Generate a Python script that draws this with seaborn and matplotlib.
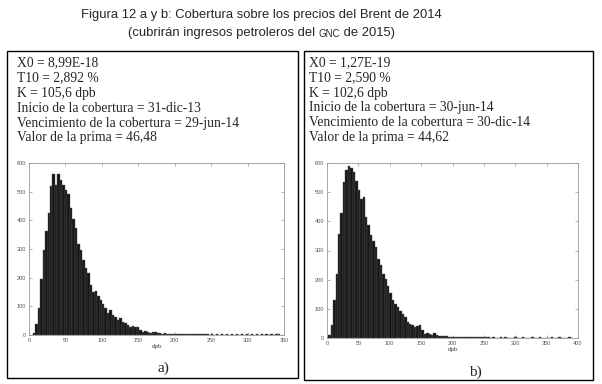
import numpy as np
import pandas as pd
import seaborn as sns
import matplotlib
import matplotlib.pyplot as plt
from matplotlib.patches import Rectangle
from matplotlib.text import Annotation

matplotlib.use('Agg')

# histogram bins (start, width, counts per bin)
left_start, left_width = 5.0, 3.4
left_counts = [6, 40, 95, 195, 297, 362, 425, 520, 560, 525,
               562, 542, 522, 507, 492, 443, 405, 372, 318, 297,
               262, 232, 216, 176, 150, 155, 135, 122, 107, 93,
               78, 88, 70, 64, 52, 58, 47, 41, 35, 28,
               30, 27, 29, 17, 10, 15, 12, 8, 12, 9,
               6, 8, 5, 6, 4, 5, 4, 3, 4, 3,
               3, 4, 2, 3, 3, 2, 3, 2, 3, 2,
               3, 0, 2, 0, 3, 0, 2, 0, 3, 0,
               2, 0, 3, 0, 2, 0, 3, 0, 2, 0,
               3, 0, 2, 0, 3, 0, 2, 0, 3, 2]

right_start, right_width = 2.0, 3.9
right_counts = [9, 44, 132, 220, 357, 430, 536, 577, 590, 582,
                570, 539, 506, 477, 483, 415, 389, 354, 331, 313,
                272, 249, 220, 202, 179, 155, 132, 118, 107, 92,
                84, 72, 55, 49, 44, 38, 40, 44, 26, 15,
                17, 13, 9, 17, 9, 8, 7, 6, 6, 5,
                4, 5, 3, 4, 3, 4, 3, 3, 4, 2,
                3, 2, 3, 2, 2, 2, 0, 2, 0, 1,
                2, 0, 2, 0, 1, 0, 2, 0, 0, 2,
                0, 1, 0, 2, 0, 0, 2, 0, 0, 1,
                0, 2, 0, 0, 2, 0, 0, 0, 2, 0]

left_xticks = [0, 50, 100, 150, 200, 250, 300, 350]
right_xticks = [0, 50, 100, 150, 200, 250, 300, 350, 400]
yticks = [0, 100, 200, 300, 400, 500, 600]

left_info = ["X0 = 8,99E-18", "T10 = 2,892 %", "K = 105,6 dpb",
             "Inicio de la cobertura = 31-dic-13",
             "Vencimiento de la cobertura = 29-jun-14",
             "Valor de la prima = 46,48"]
right_info = ["X0 = 1,27E-19", "T10 = 2,590 %", "K = 102,6 dpb",
              "Inicio de la cobertura = 30-jun-14",
              "Vencimiento de la cobertura = 30-dic-14",
              "Valor de la prima = 44,62"]

title1 = "Figura 12 a y b: Cobertura sobre los precios del Brent de 2014"
title2_parts = ["(cubrirán ingresos petroleros del ", "GNC", " de 2015)"]

sns.set_style("white")
plt.rcParams['font.family'] = ['Liberation Sans', 'DejaVu Sans']

W, H = 602, 384
fig = plt.figure(figsize=(W / 100, H / 100), dpi=100)


def fx(px):
    return px / W


def fy(py):
    return 1 - py / H


# outer boxes
for x0, x1, y0, y1 in [(7, 298, 51, 378), (304, 593, 51, 380)]:
    fig.patches.append(Rectangle((fx(x0), fy(y1)), fx(x1 - x0), (y1 - y0) / H,
                                 transform=fig.transFigure, fill=False,
                                 edgecolor='black', linewidth=1.0))

# title, second line with "GNC" in small caps
fig.text(fx(261), fy(15), title1, ha='center', va='center', fontsize=9.4)
a1 = fig.text(fx(128), fy(33), title2_parts[0], ha='left', va='center', fontsize=9.4)
a2 = fig.add_artist(Annotation(title2_parts[1], xy=(1, 0), xycoords=a1,
                               va='bottom', ha='left', fontsize=7.0,
                               annotation_clip=False))
a3 = fig.add_artist(Annotation(title2_parts[2], xy=(1, 0), xycoords=a2,
                               va='bottom', ha='left', fontsize=9.4,
                               annotation_clip=False))


def info_block(lines, x, y_top):
    for i, s in enumerate(lines):
        fig.text(fx(x), fy(y_top + i * 15.0), s, ha='left', va='center',
                 fontsize=9.8, family=['Liberation Serif', 'DejaVu Serif'])


info_block(left_info, 17, 63)
info_block(right_info, 309, 63)


def hist_panel(rect, start, width, counts, xticks, label, label_pos):
    ax = fig.add_axes(rect)
    edges = start + width * np.arange(len(counts) + 1)
    df = pd.DataFrame({"dpb": (edges[:-1] + edges[1:]) / 2, "n": counts})
    sns.histplot(data=df, x="dpb", weights="n", bins=list(edges), ax=ax,
                 color='#151515', edgecolor='#555555', linewidth=0.3, alpha=1)
    ax.set_xlim(xticks[0], xticks[-1])
    ax.set_ylim(0, 600)
    ax.set_xticks(xticks)
    ax.set_yticks(yticks)
    ax.tick_params(direction='in', length=2, width=0.4, labelsize=4,
                   labelcolor='#555555', color='#777777', pad=2,
                   top=True, right=True, bottom=True, left=True)
    ax.set_ylabel('')
    ax.set_xlabel('dpb', fontsize=4.5, color='#444444', labelpad=1)
    for sp in ax.spines.values():
        sp.set_color('#999999')
        sp.set_linewidth(0.6)
    fig.text(fx(label_pos[0]), fy(label_pos[1]), label, ha='center', va='center',
             fontsize=11, family=['Liberation Serif', 'DejaVu Serif'])
    return ax


hist_panel([fx(29), fy(335), fx(284 - 29), (335 - 163) / H],
           left_start, left_width, left_counts, left_xticks, 'a)', (163, 368))
hist_panel([fx(327), fy(338), fx(578 - 327), (338 - 163) / H],
           right_start, right_width, right_counts, right_xticks, 'b)', (475, 372))

fig.savefig('out.png', dpi=100)
